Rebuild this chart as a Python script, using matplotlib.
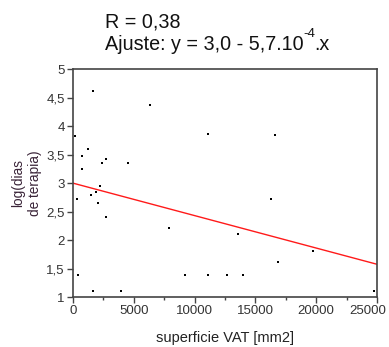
import matplotlib
matplotlib.use("Agg")
import matplotlib.pyplot as plt
import matplotlib.transforms as mtransforms
import numpy as np

plt.rcParams['font.family'] = ['Liberation Sans', 'DejaVu Sans']

# data
vat_area = [1640, 6330, 11100, 160, 1230, 720, 720, 2690, 2360, 4550,
            2250, 1860, 1510, 300, 2050, 2690, 7890, 380, 9230, 11100,
            12670, 14010, 16630, 16300, 13600, 19750, 16850, 1620, 3950, 24770]
log_days = [4.62, 4.37, 3.86, 3.82, 3.60, 3.48, 3.24, 3.42, 3.35, 3.35,
            2.95, 2.85, 2.79, 2.73, 2.66, 2.41, 2.21, 1.39, 1.39, 1.39,
            1.39, 1.39, 3.84, 2.72, 2.11, 1.81, 1.61, 1.10, 1.10, 1.10]
fit_intercept = 3.0
fit_slope = -5.7e-5
x_ticks = [0, 5000, 10000, 15000, 20000, 25000]
x_ticklabels = ['0', '5000', '10000', '15000', '20000', '25000']
y_ticks = [1, 1.5, 2, 2.5, 3, 3.5, 4, 4.5, 5]
y_ticklabels = ['1', '1,5', '2', '2,5', '3', '3,5', '4', '4,5', '5']

fig = plt.figure(figsize=(3.89, 3.47), dpi=100)
ax = fig.add_axes([73/389, 1-297/347, (377-73)/389, (297-69.3)/347])

ax.scatter(vat_area, log_days, s=3.5, marker='s', color='black', linewidths=0, zorder=3, clip_on=False)
xl = np.array([0, 25000])
ax.plot(xl, fit_intercept + fit_slope*xl, color='#ff1a1a', lw=1.0, zorder=2)

ax.set_xlim(0, 25000)
ax.set_ylim(1, 5)
ax.set_xticks(x_ticks)
ax.set_xticklabels(x_ticklabels)
ax.set_xticks(np.arange(2500, 25000, 5000), minor=True)
ax.set_yticks(y_ticks)
ax.set_yticklabels(y_ticklabels)
ax.tick_params(axis='both', which='major', direction='out', length=4, width=1,
               color='#444444', labelsize=9.5, labelcolor='#333333', pad=2)
ax.tick_params(axis='x', which='minor', direction='out', length=2.5, width=1, color='#444444')
for sp in ax.spines.values():
    sp.set_color('#444444')
    sp.set_linewidth(1.2)

# last x tick label is pulled inside the figure, as in the reference
last = ax.get_xticklabels()[-1]
last.set_horizontalalignment('right')
last.set_transform(last.get_transform() + mtransforms.ScaledTranslation(9/100, 0, fig.dpi_scale_trans))

ax.set_xlabel('superficie VAT [mm2]', fontsize=10.5, color='#222222', labelpad=10)
ax.set_ylabel('log(dias\nde terapia)', fontsize=9.8, color='#3a2438', labelpad=3, linespacing=1.25)

fig.text(105/389, 1-28/347, 'R = 0,38', fontsize=14.2, color='#111111', va='baseline', ha='left')
t_main = fig.text(105/389, 1-50/347, 'Ajuste: y = 3,0 - 5,7.10', fontsize=14.2,
                  color='#111111', va='baseline', ha='left')
fig.canvas.draw()
bb = t_main.get_window_extent()
x_end = bb.x1 / fig.bbox.width
t_sup = fig.text(x_end, 1-37/347, '-4', fontsize=9.5, color='#111111', va='baseline', ha='left')
fig.canvas.draw()
bb2 = t_sup.get_window_extent()
fig.text(bb2.x1 / fig.bbox.width - 1/389, 1-50/347, '.x', fontsize=14.2, color='#111111',
         va='baseline', ha='left')

fig.savefig('out.png', dpi=100)
